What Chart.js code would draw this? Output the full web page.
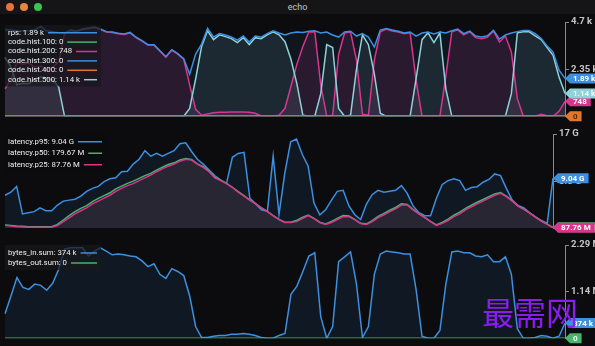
<!DOCTYPE html>
<html>
<head>
<meta charset="utf-8">
<script src="https://cdn.jsdelivr.net/npm/chart.js@4.4.1/dist/chart.umd.min.js"></script>
<style>
  body { margin: 0; background: #0c0c0e; width: 595px; height: 346px; overflow: hidden; position: relative; font-family: Roboto, sans-serif; }
  .titlebar { position: absolute; left: 0; top: 0; width: 595px; height: 14px; background: #151517; }
  .dot { position: absolute; top: 3px; width: 8px; height: 8px; border-radius: 50%; }
  .title { position: absolute; left: 0; top: 1px; width: 595px; text-align: center; color: #c4c4c4; font-size: 9px; line-height: 12px; }
  canvas { position: absolute; left: 0; }
  .mark { position: absolute; left: 482px; top: 293px; color: #8a1cf0; font-family: "Noto Sans CJK SC"; font-size: 32px; line-height: 36px; }
</style>
</head>
<body>
<div class="titlebar">
  <div class="dot" style="left:6px;background:#e6733a"></div>
  <div class="dot" style="left:20px;background:#e8853b"></div>
  <div class="dot" style="left:34px;background:#3cc24e"></div>
  <div class="title">echo</div>
</div>
<canvas id="codes" width="595" height="110" style="top:14px"></canvas>
<canvas id="latency" width="595" height="110" style="top:126px"></canvas>
<canvas id="bytes" width="595" height="109" style="top:237px"></canvas>
<div class="mark">最需网</div>

<script>
// ---- panel 1: requests (values in k) ----
const rps = [4.31,4.30,4.27,4.25,4.27,4.31,4.48,4.26,4.22,4.17,
  4.15,4.30,4.25,4.35,4.40,4.45,4.35,4.22,4.20,4.14,
  4.10,4.18,3.94,3.77,3.57,3.57,3.27,2.97,3.32,3.12,
  2.87,2.10,3.10,3.60,4.38,3.95,4.12,4.05,3.95,3.80,
  4.00,3.70,4.00,3.95,4.12,4.26,4.15,4.05,4.15,4.20,
  4.18,4.24,4.26,4.15,4.20,4.05,3.95,4.20,4.24,4.00,
  4.12,3.95,3.45,4.30,4.38,4.30,4.24,4.15,4.20,4.00,
  4.15,4.20,4.10,4.20,4.15,4.26,4.35,4.12,4.25,4.00,
  3.95,4.02,4.28,3.85,4.05,4.15,4.22,4.28,4.28,4.12,
  3.88,3.50,3.20,2.30,1.89];
const hist100 = [0,0,0,0,0,0,0,0,0,0,0,0,0,0,0,0,0,0,0,0,0,0,0,0,0,0,0,0,0,0,0,0,0,0,0,0,0,0,0,0,0,0,0,0,0,0,0,0,
  0,0,0,0,0,0,0,0,0,0,0,0,0,0,0,0,0,0,0,0,0,0,0,0,0,0,0,0,0,0,0,0,0,0,0,0,0,0,0,0,0,0,0,0,0,0,0];
const hist200 = [1.37,1.85,2.70,2.60,2.65,2.45,2.50,2.35,2.45,2.70,
  4.13,4.28,4.23,4.33,4.38,4.43,4.33,4.20,4.18,4.12,
  4.08,4.16,3.92,3.75,3.55,3.55,3.25,2.95,3.30,3.10,
  2.85,1.55,0.35,0.05,0.12,0.18,0.20,0.20,0.22,0.22,
  0.22,0.20,0.15,0.02,0,0,0.05,0.40,1.50,2.60,
  3.48,4.20,4.21,1.57,0,0.05,3.08,4.15,4.20,2.80,
  0.10,0.05,2.80,4.21,4.35,4.25,4.20,4.11,4.16,1.80,
  0,0,0,0,2.00,4.21,4.31,4.06,4.21,3.92,
  3.87,3.95,4.25,3.70,4.00,3.20,0.88,0,0,0,
  0.10,0.03,0,0.25,0.748];
const hist300 = [0,0,0,0,0,0,0,0,0,0,0,0,0,0,0,0,0,0,0,0,0,0,0,0,0,0,0,0,0,0,0,0,0,0,0,0,0,0,0,0,0,0,0,0,0,0,0,0,
  0,0,0,0,0,0,0,0,0,0,0,0,0,0,0,0,0,0,0,0,0,0,0,0,0,0,0,0,0,0,0,0,0,0,0,0,0,0,0,0,0,0,0,0,0,0,0];
const hist400 = [0,0,0,0,0,0,0,0,0,0,0,0,0,0,0,0,0,0,0,0,0,0,0,0,0,0,0,0,0,0,0,0,0,0,0,0,0,0,0,0,0,0,0,0,0,0,0,0,
  0,0,0,0,0,0,0,0,0,0,0,0,0,0,0,0,0,0,0,0,0,0,0,0,0,0,0,0,0,0,0,0,0,0,0,0,0,0,0,0,0,0,0,0,0,0,0];
const hist500 = [2.94,2.45,1.57,1.65,1.62,1.86,1.96,1.91,1.81,1.47,
  0,0,0,0,0,0,0,0,0,0,
  0,0,0,0,0,0,0,0,0,0,
  0,0.39,1.86,3.48,4.26,3.82,4.06,3.97,3.87,3.67,
  3.92,3.57,3.92,3.87,4.06,4.21,4.06,3.72,2.84,1.62,
  0.05,0,0,1.13,3.57,3.43,0.39,0,0.05,2.35,
  4.06,3.57,2.10,0.15,0,0,0,0,0,1.86,
  3.82,4.16,3.67,4.16,1.37,0,0,0,0,0,
  0,0,0,0,0,1.13,4.16,4.21,4.21,4.01,
  3.82,3.43,3.04,1.96,1.14];
const codeNames = ['rps', 'code.hist.100', 'code.hist.200', 'code.hist.300', 'code.hist.400', 'code.hist.500'];
const codeLast = ['1.89 k', '0', '748', '0', '0', '1.14 k'];
const codeTicks = ['', '2.35 k', '4.7 k'];

// ---- panel 2: latency (values in G) ----
const p95 = [5.96,6.50,7.55,2.60,2.80,3.00,3.68,3.16,3.16,4.20,
  4.90,5.08,5.25,5.80,6.66,7.20,7.55,8.40,8.94,9.10,
  10.2,10.3,11.57,12.45,14.0,13.0,13.5,13.0,13.5,14.0,
  15.25,15.4,13.85,12.45,11.57,10.5,9.47,8.70,8.10,12.8,
  13.5,13.7,5.43,4.40,3.33,3.05,13.0,2.50,10.0,15.6,
  16.1,13.3,11.2,4.56,2.45,3.33,5.08,6.66,6.84,4.03,
  2.45,1.58,4.38,6.10,6.84,6.50,6.66,6.84,7.70,6.30,
  4.03,2.80,2.28,2.28,5.43,7.90,8.60,8.94,8.60,6.84,
  7.36,7.50,8.30,8.80,9.80,9.50,7.20,5.08,4.10,3.68,
  2.80,2.05,1.40,0.90,9.04];
const p50 = [0.60,0.50,0.40,0.35,0.30,0.30,0.30,0.30,0.30,0.70,
  1.50,2.30,3.00,3.60,4.10,4.80,5.40,5.90,6.40,7.10,
  7.60,8.10,8.50,9.00,9.50,9.90,10.5,11.0,11.5,11.8,
  12.3,12.6,12.4,11.6,11.1,10.3,9.20,8.70,8.10,7.40,
  6.60,5.90,5.10,4.45,3.70,3.05,2.30,1.60,1.10,1.10,
  1.40,1.95,2.40,1.80,1.10,0.80,1.25,1.80,2.30,2.20,
  1.60,0.90,0.80,1.40,2.15,2.70,3.25,3.75,4.40,4.30,
  3.40,2.65,1.95,1.25,0.60,1.05,1.65,2.35,2.90,3.60,
  4.15,4.70,5.20,5.70,6.20,6.45,5.80,5.00,4.05,3.45,
  2.78,2.02,1.32,0.75,0.18];
const p25 = [0.53,0.40,0.30,0.25,0.20,0.20,0.20,0.20,0.20,0.50,
  1.20,1.90,2.60,3.16,3.68,4.40,4.90,5.43,5.96,6.66,
  7.20,7.70,8.06,8.60,9.10,9.60,10.2,10.7,11.2,11.57,
  12.1,12.45,12.3,11.57,11.0,10.2,9.10,8.60,8.06,7.36,
  6.50,5.80,5.08,4.40,3.68,3.00,2.28,1.58,1.05,1.05,
  1.20,1.75,2.28,1.75,1.05,0.70,1.05,1.58,2.10,2.10,
  1.58,0.88,0.70,1.20,1.93,2.45,3.00,3.50,4.20,4.20,
  3.33,2.60,1.93,1.20,0.53,0.88,1.40,2.10,2.60,3.33,
  3.86,4.40,4.90,5.43,5.96,6.30,5.70,4.90,4.00,3.40,
  2.75,2.00,1.30,0.70,0.088];
const latNames = ['latency.p95', 'latency.p50', 'latency.p25'];
const latLast = ['9.04 G', '179.67 M', '87.76 M'];
const latTicks = ['', '8.5 G', '17 G'];

// ---- panel 3: bytes (values in M) ----
const bytesIn = [0.60,1.04,1.49,1.25,1.20,1.33,1.30,1.18,1.35,1.69,
  2.19,2.22,2.22,2.22,2.02,2.14,2.22,2.14,2.05,2.07,
  2.05,2.02,2.00,1.90,1.76,1.83,1.57,1.47,1.71,1.64,
  1.54,1.04,0.29,0.02,0.02,0.05,0.07,0.07,0.10,0.10,
  0.12,0.10,0.07,0.02,0,0,0.07,0.12,1.08,1.28,
  1.64,2.02,2.10,0.53,0,0.29,1.88,2.00,2.12,1.33,
  0.02,0.29,1.57,2.07,2.14,2.12,2.10,2.07,2.07,1.20,
  0.05,0,0,0.19,1.33,2.12,2.14,2.10,2.10,2.02,
  2.00,2.05,1.88,1.88,2.00,1.57,0.24,0,0,0.02,
  0.07,0.05,0,0.05,0.374];
const bytesOut = [0,0,0,0,0,0,0,0,0,0,0,0,0,0,0,0,0,0,0,0,0,0,0,0,0,0,0,0,0,0,0,0,0,0,0,0,0,0,0,0,0,0,0,0,0,0,0,0,
  0,0,0,0,0,0,0,0,0,0,0,0,0,0,0,0,0,0,0,0,0,0,0,0,0,0,0,0,0,0,0,0,0,0,0,0,0,0,0,0,0,0,0,0,0,0,0];
const bytesNames = ['bytes_in.sum', 'bytes_out.sum'];
const bytesLast = ['374 k', '0'];
const bytesTicks = ['', '1.14 M', '2.29 M'];

const BLUE = '#3d8fe0', PINK = '#d8358f', TEAL = '#8fd2d8', GREEN = '#48b46c', ORANGE = '#e0782c';

function alpha(hex, a) {
  const n = parseInt(hex.slice(1), 16);
  return `rgba(${n >> 16},${(n >> 8) & 255},${n & 255},${a})`;
}

// draws the legend box (text, then a line swatch) and the value tags on the axis
const overlay = {
  id: 'overlay',
  afterDraw(chart, args, opts) {
    const ctx = chart.ctx;
    const area = chart.chartArea;
    const ys = chart.scales.y;
    const sets = chart.data.datasets;
    ctx.save();

    ctx.font = '7.8px Roboto';
    ctx.fillStyle = opts.boxBg;
    ctx.fillRect(5, opts.boxY, opts.boxW, opts.rowH * sets.length + 5);
    ctx.textBaseline = 'middle';
    sets.forEach((ds, i) => {
      const cy = opts.boxY + 3 + opts.rowH * (i + 0.5);
      const text = opts.names[i] + ': ' + opts.last[i];
      ctx.fillStyle = '#f0f0f0';
      ctx.fillText(text, 8, cy);
      const tw = ctx.measureText(text).width;
      ctx.strokeStyle = ds.borderColor;
      ctx.lineWidth = 1.5;
      ctx.beginPath();
      ctx.moveTo(8 + tw + 4, cy);
      ctx.lineTo(opts.boxW + 1, cy);
      ctx.stroke();
    });

    ctx.font = 'bold 8px Roboto';
    opts.badges.forEach(b => {
      const ds = sets[b.i];
      const v = ds.data[ds.data.length - 1];
      const y = ys.getPixelForValue(v);
      const x = area.right;
      const w = ctx.measureText(opts.last[b.i]).width + 7;
      const h = 10;
      ctx.fillStyle = ds.borderColor;
      ctx.beginPath();
      ctx.moveTo(x, y);
      ctx.lineTo(x + 5, y - h / 2);
      ctx.lineTo(x + 5 + w, y - h / 2);
      ctx.lineTo(x + 5 + w, y + h / 2);
      ctx.lineTo(x + 5, y + h / 2);
      ctx.closePath();
      ctx.fill();
      ctx.fillStyle = b.fg;
      ctx.fillText(opts.last[b.i], x + 8, y + 0.5);
    });
    ctx.restore();
  }
};

function lineSet(data, color, fillA, order) {
  return {
    data: data,
    borderColor: color,
    backgroundColor: alpha(color, fillA),
    borderWidth: 1.5,
    pointRadius: 0,
    tension: 0,
    fill: 'origin',
    order: order
  };
}

function makeChart(id, datasets, yMax, ticks, axisW, pad, over) {
  return new Chart(document.getElementById(id), {
    type: 'line',
    data: { labels: datasets[0].data.map((_, i) => i), datasets: datasets },
    options: {
      responsive: false,
      animation: false,
      events: [],
      devicePixelRatio: 1,
      layout: { padding: { left: 5, right: 0, top: pad[0], bottom: pad[1] } },
      plugins: {
        legend: { display: false },
        tooltip: { enabled: false },
        filler: { drawTime: 'beforeDatasetsDraw' },
        overlay: over
      },
      scales: {
        x: { display: false, offset: false },
        y: {
          position: 'right',
          min: 0,
          max: yMax,
          afterFit: s => { s.width = axisW; },
          ticks: {
            stepSize: yMax / 2,
            padding: 2,
            color: '#c6c6c6',
            font: { family: 'Roboto', size: 9.5, weight: 'bold' },
            callback: (v, i) => ticks[i]
          },
          grid: { drawOnChartArea: false, drawTicks: true, tickLength: 4, color: '#8a8a8a' },
          border: { display: true, color: '#8a8a8a', width: 1 }
        }
      }
    },
    plugins: [overlay]
  });
}

// legend box tops are relative to each canvas
makeChart('codes', [
  lineSet(rps, BLUE, 0.08, 3),
  lineSet(hist100, GREEN, 0.1, 2),
  lineSet(hist200, PINK, 0.14, 5),
  lineSet(hist300, BLUE, 0.1, 1),
  lineSet(hist400, ORANGE, 0.1, 0),
  lineSet(hist500, TEAL, 0.11, 4)
], 4.7, codeTicks, 30, [8, 6], {
  names: codeNames, last: codeLast, boxY: 11, boxW: 96, rowH: 9.4, boxBg: 'rgba(24,24,28,0.72)',
  badges: [{ i: 4, fg: '#5a2600' }, { i: 2, fg: '#ffffff' }, { i: 5, fg: '#eefafa' }, { i: 0, fg: '#ffffff' }]
});

makeChart('latency', [
  lineSet(p95, BLUE, 0.1, 2),
  lineSet(p50, GREEN, 0.08, 1),
  lineSet(p25, PINK, 0.1, 0)
], 17, latTicks, 42, [8, 5], {
  names: latNames, last: latLast, boxY: 7, boxW: 101, rowH: 11.5, boxBg: 'rgba(12,12,14,0.6)',
  badges: [{ i: 1, fg: '#ffffff' }, { i: 2, fg: '#ffffff' }, { i: 0, fg: '#ffffff' }]
});

makeChart('bytes', [
  lineSet(bytesIn, BLUE, 0.1, 1),
  lineSet(bytesOut, GREEN, 0.1, 0)
], 2.29, bytesTicks, 30, [8, 6], {
  names: bytesNames, last: bytesLast, boxY: 8, boxW: 96, rowH: 10, boxBg: 'rgba(24,24,28,0.72)',
  badges: [{ i: 1, fg: '#e8fff0' }, { i: 0, fg: '#ffffff' }]
});
</script>
</body>
</html>
